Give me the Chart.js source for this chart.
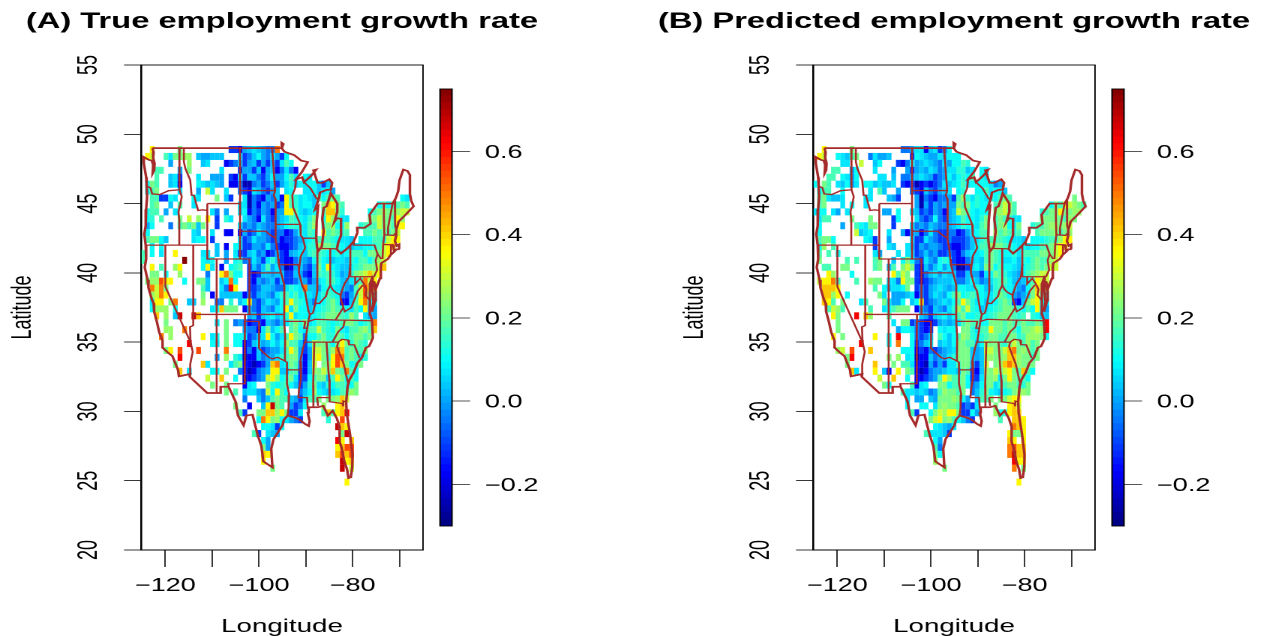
<!DOCTYPE html>
<html>
<head>
<meta charset="utf-8">
<title>Employment growth rate</title>
<script src="https://cdn.jsdelivr.net/npm/chart.js@4"></script>
<style>
  html, body { margin: 0; padding: 0; background: #fff; overflow: hidden; width: 1264px; height: 636px; }
  .stretch { position: absolute; top: 0; transform: scaleX(1.5); transform-origin: 0 0; }
</style>
</head>
<body>
<div class="stretch" style="left:-30px"><canvas id="mapA" width="416" height="636"></canvas></div>
<div class="stretch" style="left:430px"><canvas id="barA" width="107" height="636"></canvas></div>
<div class="stretch" style="left:642px"><canvas id="mapB" width="416" height="636"></canvas></div>
<div class="stretch" style="left:1102px"><canvas id="barB" width="107" height="636"></canvas></div>
<script>
// grid of the map: one column per degree of longitude, one row per half degree of latitude
const firstLon = -124.8, lonStep = 0.99;
const firstLat = 48.9, latStep = 0.5;

// letter in a row = colour class, value in the list below, '.' = no cell
const levelCodes = 'abcdefghijklmnopqrst';
const levelValues = [-0.25, -0.17, -0.11, -0.05, 0, 0.04, 0.07, 0.10, 0.13, 0.17, 0.21, 0.25, 0.30, 0.36, 0.41, 0.49, 0.55, 0.62, 0.68, 0.75];

const trueRows = [
"..n.....k. .........c cbefgfeddp",
".nm..jgkkl l.feefff.. .gcdfhedge ch",
"......e... l..fg...bc dfcefcecfc gjh",
"...jj...e. k......g.. .ceecfbefb dgdb",
"...j..fgc. ..g..eee.c bgcffdcehe ehjg.hg",
".hkj..fgb. ..hgfgfe.b bdaadecdfc egifhghhfc f",
".hjk....g. ..e.mg..g. .dcbgfdcef .gh..gghfg he",
"..jjcchg.. .hg...k.fc ..gadcbedf bnjighgfjh jkj....... ......hg",
"..jk..f.j. .g........ .ggadbedec dnjighhf.k onkj...... .hjhjjkj",
".hjj.e.g.. .....gd.e. .ghbdcedbe ennjgfgh.j ooki.....h jklkklmm",
".hi.j...k. m.l.n.c.ig ..gedbgdce fgjihgik.h nljgg....k kmkkjnl",
".eh...d.jk jkfk..c... .gdedfedde fhiihgjl.j klhhl..ijj jmkkjnn",
".h........ .gf..g..bb .becdgedcd dbcehgji.n jkjij...jj kjkjkm",
".jkkhf.... .ghh.c.... .gcdgeedcd bccdeghijj jihggf.hhh jjimnn",
"..h.h..... ......f.b. hgcceedgdc bbcdfgiilk kjihgfgghh ijmno",
"j.h.g..n.. ...gg.f.e. gccfgdebce cbefgfijji hhighjjjhk kkmn",
"j........t ...hgh..e. hiddgecgif cbbdfedhjh gfggfihjjh jlm",
"..n.j..ln. ...hng.b.h ij.cfdfjeg dabefdcfkh nhgffhijkk kmo",
"..kk.h..l. ....d..npk hh.cbcffef fccfecbfji jigefiklmo mn",
".kllqnn..h ..kkf..fhp h..cbedefc fccdfecegh jjhfeghjpm n",
"..pmpk.... ...jf..gdr n..ccdffed dgihgpffeh ihgfedjmqn n",
"..lmpn.... ...k.b.fff ffbdcefedg ijhjghgfgi jihdceimqk h",
"..gnn.kp.. ff.l..dd.i .fhndcegfe hjnjihfdgh jkibbfjnph g",
"..hlll.h.. .....ghokk k.bedcfedg hngkhhfghi jkjihgjhnf e",
"...o.l.fs. .so....... ...efcfghf ginghhghij kkkjilj.ge e",
".....k.... ......g.k. dedbccbfed fgjkikghjj ihijkkjhij p",
".....ll..p ........k. ..eddbgkfh j.jkhgjjmj ihkhgjjklj o",
"....p.l... ...n.gh.k. hhgcdfgnhe gjnkjdhhjk iikjhjkkjk",
".......... r....hg.k. hhbcfgefhf hljjfcglkk jhknkikji",
".....kn.q. ..q.....p. ..bdbfcdee gjnkecemmk jlpojkjjk",
"........r. ......e.l. igabbfdeeg ijkkebemnk inqpjkjgi",
".......k.. ...og....g jkbbabceop ghkjdbfm.k knqokhik",
"........o. g....hh.k. .dbabdefnn ffjjcbflkm kokjpjh",
".......... ....m..o.. h.abcdemnl hikgcchjkk fjnkhjh",
".......... .....k..k. ..bgh..kih ijhfceikgf ihjjihk",
".......... ........k. j.fggedmhn jh..dfhlhg fghjjlk",
".......... .......... ..d..fdfjk jjfecgjjk. kklom",
".......... .......... k..b..fnsk j.ecdh...l ..no",
".......... .......... .jc..kkool nkccg....j ojnor",
".......... .......... .....hpnkl hgedc..... i..q",
".......... .......... ......hhgc h......... ..son",
".......... .......... ....jc.gfe .......... ...ks",
".......... .......... ......he.. .......... ..rn.o",
".......... .......... ......ke.. .......... ..noqq",
".......... .......... ......on.. .......... ..oqoq",
".......... .......... ......n... .......... ...sno",
".......... .......... ........k. .......... ...s.m",
"",
".......... .......... .......... .......... ....n"
];

const predRows = [
"..n.....k. .........d deggbfgcdh",
".nm..hgfjk ..dgeef... .chgfeegfh hh",
"......gg.. m..fh...cb dhefgfedge hhji",
"....jj..eh ...g...e.. ecefegfdeg giifg.hg",
"...jj.hgeh ....gg.f.d defgfecdeh fhihj.hg",
"h.kj.gfheg .hhfgffg.c bcabcbcdgf ghjghhhhgd e",
".hjj..h... ..g.jf..e. .dcbfdcefg .hi..hhjgh hf",
".jkgffg... .gg...fec. ..eadcbdde cjligihgih jkj....... ......k",
".jk...g.h. .g........ ..eaecedee ekjkhihh.j kmlj...... .hkjnmlkj",
"ghh.ge.g.. .....ee.h. .gfcdcedbe fmkjhghh.k lmkj.....i jkknkkll",
".gjj....k. ..k....ch. ..gdcdhdce fgjhhgik.j kjigg....k kkkkjlk",
".h....e..j hgkk...c.. .gdedfedde fgihhgjk.j klhhk..ijj kllklm",
".h.......m fgh...g..e beebdgdccd dbceghjj.l jkjij...jk kkljkl",
".jkkh..... .hgc..e... .gccgedccd cccdfgijjj jihggf.hhh ijjlnn",
".hl.j..... ...c..gf.. gfcedeedcc bbcdfhjjlk kjihghghhj jkmnn",
".j.j.h.... ...ge...g. ggcdfdeccd cbdfgghjkj ihhigjjjjk kkmn",
".k.....j.j ...jk..f.h khdcgedhih cbbdfgfjkj igghfihjkj jlm",
"..jj..kk.. ...jk.fj.k mkcbfdfheg daacghfkkh jhhgfhijkj kmm",
"...nl...h. .......njm k.cbdfgegf fccfeecghk jigfehjklm m",
".mnnpj...j ..lkk.ggdn kkcbcdefff gddfhfdegi jjhfefhjnm m",
"..ooon.... ...j.hfggh k.cdcefgfe fhhggihffi jihgedhkom m",
"..ooln.h.. ....kg.eee fgbdcegfeh jkhijihggi kjhedegknj h",
"..onj.k... gj...kgeeh .fhncdefgf hjnkighfgh jkjcbfkmnh g",
"...jmlj... ..j..ghjkk k.bedcfedg iljmihfghi jkkjihjhng e",
"....nk...r .ol...j... ...fecfghf hjkhhiihij kkkjij.ihf f",
".....k.... .......g.k kcdcbbcefe fgjkjjhhkk kjkjjkjjkj r",
".....k.... ........eh hgdcbc.hgh h.kkigjjnk kjkjhkklml r",
"....n.k... ...n..h.r. .hdcdf.jhf hjlkihijkk jjkkijlllk h",
".......... r.....h.p. .hcdfg.fgf hkkjjfhlkk jikmkjljk",
".....lm.q. ..o......h hhbcbdcdef gkkkfefmmk kmopklkjk",
".......kr. ......k.l. ghabbfdeeg ikkkfefllk kloolkkik",
".......k.. ...o...k.j jgbbaececg gjkkecfm.k lopolkkk",
"........og ...n.fb.n. kjbabdeefg gfkjcbflkm kmnkjojh",
".......... ....m..o.. h.bbcdejnl jjkhccgkkl gknkjjh",
".......... .....kh... .jbgh..kkh jjkhdehkkg ijkkjik",
".......... .........j ggfgfdejlk kjk.dfikhg fhikllk",
".......... .......... g.ee.fekkk lkhe.fjjk. kkmnn",
".......... .......... h..hh.gklk kjcdcg...k ..nom",
".......... .......... .jc..hkmln nkcche...l hinoo",
".......... .......... .....kmnkl jhfdc..... j..oon",
".......... .......... ......hgfe g......... ...pon",
".......... .......... ....jgggfc .......... ..nkkn",
".......... .......... ......he.. .......... ..on.n",
".......... .......... ......jd.. .......... ..pqoo",
".......... .......... ......kh.. .......... ..psoo",
".......... .......... ......l... .......... ...rnn",
".......... .......... ........k. .......... ...p.k",
"",
".......... .......... .......... .......... ....n"
];

// outline and state lines as lon,lat lists
const outline = [-122.76,49,-122.5,48.7,-122.6,48.3,-122.3,47.9,-122.4,47.4,-122.7,47.2,-122.6,47.8,-122.9,48.1,-123.5,48.15,-124.7,48.38,-124.6,47.9,-124.1,46.9,-124,46.3,-123.9,45.5,-124.1,44.6,-124.2,43.4,-124.5,42.8,-124.2,42,-124.1,41,-124.4,40.4,-123.8,39.5,-123.6,38.9,-122.9,38.1,-122.5,37.8,-122.4,37.2,-121.9,36.6,-121.3,35.7,-120.6,35.1,-120.6,34.6,-119.3,34.2,-118.5,34,-117.3,33,-117.1,32.53,-114.7,32.7,-114.8,32.5,-111.07,31.33,-108.2,31.33,-108.2,31.78,-106.5,31.78,-105,30.7,-104.5,29.7,-103.3,29,-102.7,29.7,-101.4,29.77,-100.3,28.3,-99.5,27.5,-99.1,26.4,-97.15,25.96,-97.4,27.3,-96.9,28,-95,29,-94.7,29.4,-93.9,29.7,-92.3,29.55,-91.3,29.4,-90.2,29.1,-89.4,28.95,-89.2,29.3,-89.6,29.9,-89.4,30.3,-88.1,30.3,-87.5,30.3,-86.3,30.4,-85.3,29.7,-84.3,30.05,-83.4,29.5,-82.8,28.9,-82.8,27.8,-82.4,27.4,-81.8,26.4,-81.2,25.8,-80.9,25.2,-80.4,25.25,-80.1,26,-80.05,26.9,-80.6,28.4,-81.3,29.9,-81.4,30.7,-81.1,31.8,-80.7,32.3,-79.8,32.8,-79,33.5,-78,33.9,-77.2,34.6,-76.5,34.7,-75.7,35.3,-75.9,36.6,-76.3,37,-76.3,38,-76.4,39.2,-76,39.5,-75.6,37.9,-75.9,37.2,-75.2,38,-75.1,38.7,-75.5,39.4,-75,38.9,-74.2,39.6,-74,40.4,-73.9,40.7,-72.5,41,-71.9,41.3,-71.2,41.5,-70.7,41.7,-70,41.7,-70.1,42.05,-70.6,41.95,-71,42.3,-70.7,42.7,-70.7,43.1,-70.2,43.7,-69,44.1,-67,44.8,-67.5,45.2,-67.8,45.7,-67.8,47.07,-68.3,47.35,-69.2,47.45,-70,46.7,-70.3,45.9,-70.8,45.4,-71.5,45,-74.7,45,-76.4,44.2,-76.2,43.55,-77.5,43.25,-79.05,43.27,-79,42.9,-79.8,42.25,-81.2,41.75,-82.5,41.4,-83.4,41.7,-83.1,42.2,-82.5,42.7,-82.4,43,-82.6,43.9,-83.4,43.95,-83.9,43.7,-83.3,44.4,-83.3,45,-84.7,45.75,-85,45.4,-85.6,44.8,-86.2,44.7,-86.5,43.9,-86.2,43,-86.6,41.9,-87.3,41.6,-87.6,41.8,-87.8,42.5,-87.7,43.7,-87.4,44.8,-88,44.6,-87.2,45.4,-87,45.8,-85.5,46,-84.7,46,-84.4,46.5,-85,46.75,-86.5,46.5,-87.5,46.5,-88.4,47.4,-87.8,47.45,-88.9,47,-90.4,46.55,-90.8,46.9,-92.1,46.75,-90.8,47.3,-89.6,48,-91,48.1,-92.5,48.5,-93.4,48.6,-94.6,48.75,-95.15,49,-95.15,49.38,-94.8,49.3,-95.15,49,-122.76,49];
const stateLines = [
[-124,46.25,-123.2,46.15,-122.8,45.7,-121.2,45.65,-119.3,45.93,-116.92,46],
[-117.03,49,-117.04,46.4,-116.92,46,-116.5,45.5,-116.85,44.9,-117.2,44.4,-117.03,43.8,-117.03,42],
[-124.2,42,-111.05,42],
[-116.05,49,-116.05,48,-115.7,47.5,-114.7,46.7,-114.4,45.6,-113.9,45.6,-113.5,45.1,-113,44.5,-112,44.55,-111.05,44.5],
[-111.05,45,-104.05,45,-104.05,41,-111.05,41,-111.05,45],
[-104.05,49,-104.05,45],
[-104.05,45.94,-96.56,45.94],
[-104.05,43,-98.5,43,-97.9,42.8,-96.5,42.5],
[-104.05,41,-102.05,41,-102.05,40,-95.3,40],
[-109.05,41,-109.05,31.33],
[-102.05,40,-102.05,37],
[-114.05,37,-94.62,37],
[-114.05,42,-114.05,36.2,-114.75,36.1,-114.63,35,-114.15,34.3,-114.7,33.4,-114.7,32.7],
[-120,42,-120,39,-114.63,35],
[-103,37,-103,36.5,-100,36.5,-100,34.56,-99.2,34.3,-97.9,33.9,-97.1,33.8,-96,33.9,-94.48,33.64],
[-103.04,36.5,-103.04,32,-106.6,32,-106.5,31.78],
[-94.62,37,-94.62,36.5,-94.43,35.4,-94.48,33.64,-94.04,33.55,-94.04,32,-93.55,31.2,-93.7,30.3,-93.9,29.7],
[-95.3,40,-94.6,39.1,-94.62,37],
[-94.62,36.5,-90.15,36.5,-90.37,36,-89.7,36],
[-95.77,40.58,-91.73,40.6,-91.42,40.38],
[-96.45,43.5,-91.22,43.5],
[-96.5,42.5,-96.1,41.7,-95.9,41,-95.77,40.58,-95.3,40],
[-97.2,49,-96.8,47,-96.56,45.94,-96.85,45.6,-96.45,45.3,-96.45,43.5,-96.5,42.5],
[-92.1,46.75,-92.3,46.1,-92.9,45.6,-92.75,44.75,-91.22,43.5],
[-90.64,42.5,-87.8,42.5],
[-90.4,46.55,-89,46.1,-87.7,45.35,-87.2,45.4],
[-91.22,43.5,-91.1,42.7,-90.64,42.5,-90.15,41.8,-91.1,41.2,-91.42,40.38,-91.5,40,-90.7,39,-90.2,38.7,-89.5,37.3,-89.15,37,-89.5,36.5,-89.7,36,-90.1,35.1,-90.6,34.6,-91.2,33.6,-91.1,33,-91,32.4,-91.5,31.5,-91.6,31,-89.75,31,-89.6,30.2],
[-94.04,33,-91.16,33],
[-89.15,37,-88.5,37.1,-88,37.8,-87.1,37.8,-86.3,38.1,-85.7,38.3,-85.4,38.7,-84.8,39.1,-84.3,38.8,-83.7,38.6,-82.6,38.4,-82,39,-81.7,39.25,-80.8,39.7,-80.52,40.64],
[-87.53,41.7,-87.53,39.3,-87.6,38.7,-88,37.8],
[-84.8,41.75,-84.8,39.1],
[-87,41.76,-84.8,41.75,-83.45,41.73],
[-80.52,42,-80.52,39.72],
[-79.76,42.27,-79.76,42,-75.35,42,-74.7,41.36,-75.1,40.9,-74.8,40.2,-75.5,39.7],
[-80.52,39.72,-75.79,39.72,-75.7,38.46,-75.05,38.45],
[-74.7,41.36,-73.9,41],
[-79.48,39.72,-79.48,39.2,-78.4,39.6,-77.8,39.3,-77.05,38.8,-77.3,38.4,-76.3,38],
[-77.83,39.13,-78.9,38.7,-80.3,37.5,-81.7,37.2,-82,37.5,-82.6,38.2,-82.6,38.4],
[-82,37.5,-83.68,36.6],
[-75.9,36.55,-81.7,36.59,-83.68,36.6,-88.07,36.65,-89.4,36.5],
[-81.7,36.59,-82,36.1,-83.1,35.75,-84.32,35],
[-90.3,35,-83.1,35,-82.3,35.2,-81,35.15,-80.8,34.82,-79.67,34.8,-78.55,33.86],
[-83.1,35,-83.35,34.7,-82.6,34,-81.9,33.4,-81.4,32.6,-81,32.05],
[-85.6,35,-85.18,32.87,-85,32.3,-85,31,-84.86,30.7,-82.2,30.57,-82.05,30.37,-82,30.75,-81.45,30.7],
[-87.6,31,-85,31],
[-87.6,31,-87.4,30.4],
[-88.2,35,-88.45,31.9,-88.4,30.3],
[-73.35,45,-73.35,44,-73.25,42.75,-73.5,42.05,-73.65,41],
[-71.5,45,-72.5,43.2,-72.45,42.73],
[-73.25,42.75,-71.3,42.7,-70.8,42.87],
[-73.5,42.05,-71.4,42.02,-71.2,41.5],
[-71.8,42.02,-71.85,41.32],
[-71.05,45.3,-70.95,43.4,-70.7,43.07]
];

const xTicksShown = [-120, -100, -80];
const fontName = '"Liberation Sans", Arial, sans-serif';
const barMin = -0.3, barMax = 0.75, barSteps = 64;

function jet(v) {
  const idx = Math.min(barSteps - 1, Math.floor((v - barMin) / (barMax - barMin) * barSteps));
  const f = (idx + 0.5) / barSteps;
  const c = t => Math.round(255 * Math.max(0, Math.min(1, t)));
  const r = c(Math.min(4 * f - 1.5, 4.5 - 4 * f));
  const g = c(Math.min(4 * f - 0.5, 3.5 - 4 * f));
  const b = c(Math.min(4 * f + 0.5, 2.5 - 4 * f));
  return 'rgb(' + r + ',' + g + ',' + b + ')';
}

function cellsFrom(rows) {
  const out = [];
  rows.forEach((row, r) => {
    row.replace(/ /g, '').split('').forEach((code, k) => {
      if (code === '.') return;
      out.push({ x: firstLon + k * lonStep, y: firstLat - r * latStep, v: levelValues[levelCodes.indexOf(code)] });
    });
  });
  return out;
}

function pointsFrom(flat) {
  const out = [];
  for (let i = 0; i < flat.length; i += 2) out.push({ x: flat[i], y: flat[i + 1] });
  return out;
}

// paints the grid cells at the positions the scatter dataset got from the scales
const cellPlugin = {
  id: 'cells',
  beforeDatasetsDraw(chart) {
    const last = chart.data.datasets.length - 1;
    const meta = chart.getDatasetMeta(last);
    const cells = chart.data.datasets[last].data;
    const xs = chart.scales.x, ys = chart.scales.y;
    const w = Math.abs(xs.getPixelForValue(lonStep) - xs.getPixelForValue(0)) + 0.1;
    const h = Math.abs(ys.getPixelForValue(latStep) - ys.getPixelForValue(0)) + 0.1;
    const ctx = chart.ctx;
    ctx.save();
    meta.data.forEach((el, i) => {
      ctx.fillStyle = jet(cells[i].v);
      ctx.fillRect(el.x - w / 2, el.y - h / 2, w, h);
    });
    ctx.restore();
  }
};

const framePlugin = {
  id: 'frame',
  afterDraw(chart) {
    const a = chart.chartArea, ctx = chart.ctx;
    ctx.save();
    ctx.strokeStyle = '#000';
    ctx.lineWidth = 0.9;
    ctx.strokeRect(a.left, a.top, a.right - a.left, a.bottom - a.top);
    ctx.restore();
  }
};

function drawMap(id, heading, rows) {
  const lines = [outline].concat(stateLines).map((flat, i) => ({
    type: 'scatter',
    data: pointsFrom(flat),
    showLine: true,
    fill: false,
    tension: 0,
    borderColor: '#A52A2A',
    borderWidth: i === 0 ? 1.7 : 1.3,
    pointRadius: 0
  }));
  lines.push({ type: 'scatter', data: cellsFrom(rows), pointRadius: 0, showLine: false });

  new Chart(document.getElementById(id), {
    type: 'scatter',
    data: { datasets: lines },
    plugins: [cellPlugin, framePlugin],
    options: {
      responsive: false,
      animation: false,
      devicePixelRatio: 2,
      plugins: {
        legend: { display: false },
        tooltip: { enabled: false },
        title: {
          display: true,
          text: heading,
          color: '#000',
          font: { family: fontName, size: 21.8, weight: 'bold', lineHeight: 1 },
          padding: { top: 11, bottom: 32.2 }
        }
      },
      scales: {
        x: {
          type: 'linear',
          min: -125.2,
          max: -65,
          afterFit(s) { s.height = 86; },
          title: {
            display: true,
            text: 'Longitude',
            color: '#000',
            font: { family: fontName, size: 18.5, lineHeight: 1 },
            padding: { top: 0, bottom: 0 }
          },
          border: { display: true, color: '#000', width: 1 },
          grid: { drawOnChartArea: false, drawTicks: true, tickLength: 17, color: '#222', lineWidth: 0.9 },
          ticks: {
            stepSize: 10,
            includeBounds: false,
            autoSkip: false,
            maxRotation: 0,
            padding: 8,
            color: '#000',
            font: { family: fontName, size: 18 },
            callback: v => xTicksShown.includes(v) ? '\u2212' + Math.abs(v) : ''
          }
        },
        y: {
          type: 'linear',
          min: 20,
          max: 55,
          afterFit(s) { s.width = 114; },
          title: {
            display: true,
            text: 'Latitude',
            color: '#000',
            font: { family: fontName, size: 18, lineHeight: 1 },
            padding: { top: 26.5, bottom: 0 }
          },
          border: { display: true, color: '#000', width: 1.3 },
          grid: { drawOnChartArea: false, drawTicks: true, tickLength: 11.3, color: '#222', lineWidth: 0.9 },
          ticks: {
            stepSize: 5,
            minRotation: 90,
            maxRotation: 90,
            crossAlign: 'center',
            padding: 13,
            color: '#000',
            font: { family: fontName, size: 18 }
          }
        },
        // empty right margin, keeps the title centred over the plot
        margin: {
          type: 'linear',
          axis: 'y',
          position: 'right',
          afterFit(s) { s.width = 114; },
          border: { display: false },
          grid: { display: false },
          ticks: { display: false }
        }
      }
    }
  });
}

function drawBar(id) {
  const sets = [];
  for (let i = 0; i < barSteps; i++) {
    const lo = barMin + (barMax - barMin) * i / barSteps;
    const hi = barMin + (barMax - barMin) * (i + 1) / barSteps;
    sets.push({
      data: [[lo, hi]],
      backgroundColor: jet((lo + hi) / 2),
      borderWidth: 0,
      barPercentage: 1,
      categoryPercentage: 1,
      grouped: false
    });
  }
  new Chart(document.getElementById(id), {
    type: 'bar',
    data: { labels: [''], datasets: sets },
    plugins: [framePlugin],
    options: {
      responsive: false,
      animation: false,
      devicePixelRatio: 2,
      layout: { padding: { left: 6.67, right: 0, top: 89, bottom: 110 } },
      plugins: { legend: { display: false }, tooltip: { enabled: false } },
      scales: {
        x: { display: false },
        y: {
          position: 'right',
          min: barMin,
          max: barMax,
          afterFit(s) { s.width = 92.33; },
          border: { display: true, color: '#000', width: 0.9 },
          grid: { drawOnChartArea: false, drawTicks: true, tickLength: 12, color: '#444', lineWidth: 0.9 },
          ticks: {
            stepSize: 0.2,
            includeBounds: false,
            padding: 10,
            labelOffset: 1.5,
            color: '#000',
            font: { family: fontName, size: 18 },
            callback: v => (v < 0 ? '\u2212' : '') + Math.abs(v).toFixed(1)
          }
        }
      }
    }
  });
}

drawMap('mapA', '(A) True employment growth rate', trueRows);
drawBar('barA');
drawMap('mapB', '(B) Predicted employment growth rate', predRows);
drawBar('barB');
</script>
</body>
</html>
